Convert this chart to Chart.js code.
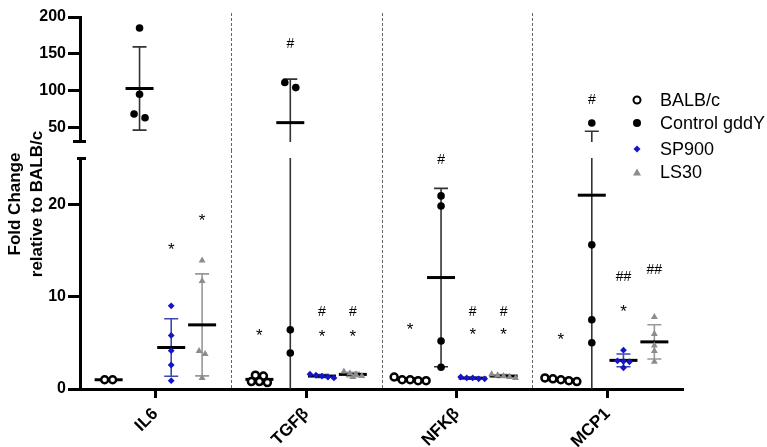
<!DOCTYPE html>
<html>
<head>
<meta charset="utf-8">
<script src="https://cdn.jsdelivr.net/npm/chart.js@4.4.0/dist/chart.umd.min.js"></script>
<style>
    body { margin: 0; background: #fff; }
    #wrap { position: relative; width: 767px; height: 447px; overflow: hidden; font-family: "Liberation Sans", Arial, sans-serif; }
    #upper { position: absolute; left: 0; top: 0; }
    #lower { position: absolute; left: 0; top: 150px; }
    #ytitle {
        position: absolute; left: -74px; top: 182px; width: 200px; height: 44px;
        line-height: 22px; text-align: center; font-size: 17px; font-weight: bold;
        transform: rotate(-90deg); color: #000;
    }
    .item { position: absolute; left: 630px; height: 22px; line-height: 22px; font-size: 18px; color: #000; white-space: nowrap; }
    .item span.txt { position: absolute; left: 30px; top: 0; }
    .mk { position: absolute; left: 7px; top: 11px; transform: translate(-50%, -50%); box-sizing: border-box; }
    .open { width: 9px; height: 9px; border: 2.5px solid #000; border-radius: 50%; }
    .fill { width: 8px; height: 8px; background: #000; border-radius: 50%; }
    .dia { width: 5px; height: 5px; background: #1414c8; transform: translate(-50%, -50%) rotate(45deg); }
    .tri { width: 0; height: 0; border-left: 4px solid transparent; border-right: 4px solid transparent; border-bottom: 7px solid #8c8c8c; }
</style>
</head>
<body>
<div id="wrap">
    <canvas id="upper" width="767" height="150"></canvas>
    <canvas id="lower" width="767" height="297"></canvas>
    <div id="ytitle">Fold Change<br>relative to BALB/c</div>
    <div class="item" style="top:89px"><i class="mk open"></i><span class="txt">BALB/c</span></div>
    <div class="item" style="top:112px"><i class="mk fill"></i><span class="txt">Control gddY</span></div>
    <div class="item" style="top:138px"><i class="mk dia"></i><span class="txt">SP900</span></div>
    <div class="item" style="top:161px"><i class="mk tri"></i><span class="txt">LS30</span></div>
</div>
<script>
// Genes on the x axis
const categories = ['IL6', 'TGFβ', 'NFKβ', 'MCP1'];
const seriesNames = ['BALB/c', 'Control gddY', 'SP900', 'LS30'];

// Fold change per mouse, one list per gene
const balbc = [
    [1.0, 1.0],
    [0.8, 1.5, 0.7, 1.4, 0.8],
    [1.3, 1.0, 0.9, 1.0, 0.9],
    [1.2, 1.0, 1.1, 0.9, 0.8]
];
const controlGddY = [
    [185, 95, 63, 68],
    [111, 104, 6.4, 3.9],
    [20.9, 19.8, 5.2, 2.35],
    [55.8, 15.6, 7.5, 5.0]
];
const sp900 = [
    [9.0, 5.8, 4.15, 2.6, 0.9],
    [1.3, 1.5, 1.4, 1.6, 1.2],
    [1.2, 1.1, 1.3, 1.2, 1.1],
    [4.2, 3.05, 3.0, 2.95, 2.3]
];
const ls30 = [
    [13.9, 11.7, 4.1, 3.8, 1.2],
    [1.4, 1.7, 1.9, 1.6, 1.3],
    [1.3, 1.6, 1.4, 1.5, 1.2],
    [7.8, 5.95, 4.7, 4.1, 2.95]
];

// Significance marks: [gene, series, text, level]
const marks = [
    [0, 2, '*', 15.4], [0, 3, '*', 18.5],
    [1, 0, '*', 6.1], [1, 1, '#', 163], [1, 2, '*', 5.95], [1, 2, '#', 8.3], [1, 3, '*', 5.95], [1, 3, '#', 8.3],
    [2, 0, '*', 6.7], [2, 1, '#', 24.8], [2, 2, '*', 6.2], [2, 2, '#', 8.3], [2, 3, '*', 6.2], [2, 3, '#', 8.3],
    [3, 0, '*', 5.7], [3, 1, '#', 87], [3, 2, '*', 8.7], [3, 2, '##', 12.1], [3, 3, '##', 12.9]
];

// Broken y axis
const lowerTicks = [0, 10, 20];
const upperTicks = [50, 100, 150, 200];
const lowerMin = 0, lowerMax = 25;
const upperMin = 30, upperMax = 200;

const allSeries = [balbc, controlGddY, sp900, ls30];
const seriesOffset = [-0.31, -0.105, 0.105, 0.31];
const jitterStep = [8, 11, 6, 6];
const pointStyles = [
    { pointStyle: 'circle', radius: 3.5, backgroundColor: '#fff', borderColor: '#000', borderWidth: 2.5 },
    { pointStyle: 'circle', radius: 3.8, backgroundColor: '#000', borderColor: '#000', borderWidth: 0 },
    { pointStyle: 'rectRot', radius: 3.4, backgroundColor: '#1414c8', borderColor: '#1414c8', borderWidth: 0 },
    { pointStyle: 'triangle', radius: 4, backgroundColor: '#8c8c8c', borderColor: '#8c8c8c', borderWidth: 0 }
];
const errorColors = ['#000', '#333', '#3c46b4', '#999'];

Chart.defaults.font.family = "'Liberation Sans', Arial, sans-serif";
Chart.defaults.color = '#000';

function stats(vals) {
    const mean = vals.reduce((a, b) => a + b, 0) / vals.length;
    const sd = Math.sqrt(vals.reduce((a, b) => a + (b - mean) * (b - mean), 0) / (vals.length - 1));
    return { mean, sd };
}

// Spread overlapping points sideways, like a scatter column
function jitter(vals, step) {
    const py = v => v > lowerMax ? (upperMax - v) * 0.735 : 150 + (lowerMax - v) * 9.24;
    const order = vals.map((v, i) => i).sort((a, b) => py(vals[a]) - py(vals[b]));
    const out = new Array(vals.length).fill(0);
    let row = [];
    const flush = () => {
        row.forEach((idx, k) => { out[idx] = (k - (row.length - 1) / 2) * step / 151; });
        row = [];
    };
    order.forEach(i => {
        if (row.length && py(vals[i]) - py(vals[row[0]]) > 5.5) flush();
        row.push(i);
    });
    flush();
    return out;
}

function buildDatasets(inRange) {
    return allSeries.map((series, s) => {
        const pts = [];
        series.forEach((vals, g) => {
            const jx = jitter(vals, jitterStep[s]);
            vals.forEach((v, i) => {
                if (inRange(v)) pts.push({ x: g + seriesOffset[s] + jx[i], y: v });
            });
        });
        const st = pointStyles[s];
        return {
            label: seriesNames[s],
            data: pts,
            showLine: false,
            pointStyle: st.pointStyle,
            pointRadius: st.radius,
            pointBackgroundColor: st.backgroundColor,
            pointBorderColor: st.borderColor,
            pointBorderWidth: st.borderWidth,
            clip: false
        };
    });
}

// Separators, axis break caps, error bars and means
const decorPlugin = {
    id: 'decor',
    beforeDatasetsDraw(chart, args, opts) {
        const { ctx, chartArea, scales: { x, y } } = chart;
        ctx.save();
        // dotted separators between genes
        ctx.strokeStyle = '#666';
        ctx.lineWidth = 1;
        ctx.setLineDash([3, 2]);
        [0.5, 1.5, 2.5].forEach(v => {
            const px = Math.round(x.getPixelForValue(v)) + 0.5;
            ctx.beginPath();
            if (opts.upper) {
                ctx.moveTo(px, chartArea.top - 4);
                ctx.lineTo(px, chart.height);
            } else {
                ctx.moveTo(px, 0);
                ctx.lineTo(px, chartArea.bottom);
            }
            ctx.stroke();
        });
        ctx.setLineDash([]);

        // axis break caps
        ctx.strokeStyle = '#000';
        ctx.lineWidth = 3;
        ctx.beginPath();
        if (opts.upper) {
            ctx.moveTo(chartArea.left - 7, chartArea.bottom - 0.5);
            ctx.lineTo(chartArea.left + 6, chartArea.bottom - 0.5);
        } else {
            ctx.moveTo(chartArea.left - 3, chartArea.top + 0.5);
            ctx.lineTo(chartArea.left + 6, chartArea.top + 0.5);
        }
        ctx.stroke();

        // error bars (mean ± SD) and mean lines
        ctx.beginPath();
        ctx.rect(chartArea.left, chartArea.top, chartArea.right - chartArea.left, chartArea.bottom - chartArea.top);
        ctx.clip();
        allSeries.forEach((series, s) => {
            series.forEach((vals, g) => {
                const { mean, sd } = stats(vals);
                const px = x.getPixelForValue(g + seriesOffset[s]);
                const top = y.getPixelForValue(mean + sd);
                const bot = y.getPixelForValue(mean - sd);
                const mid = y.getPixelForValue(mean);
                ctx.strokeStyle = errorColors[s];
                ctx.lineWidth = 1.6;
                ctx.beginPath();
                ctx.moveTo(px, top); ctx.lineTo(px, bot);
                ctx.moveTo(px - 7, top); ctx.lineTo(px + 7, top);
                ctx.moveTo(px - 7, bot); ctx.lineTo(px + 7, bot);
                ctx.stroke();
                ctx.strokeStyle = '#000';
                ctx.lineWidth = 3;
                ctx.beginPath();
                ctx.moveTo(px - 14, mid); ctx.lineTo(px + 14, mid);
                ctx.stroke();
            });
        });
        ctx.restore();
    },
    afterDatasetsDraw(chart, args, opts) {
        const { ctx, scales: { x, y } } = chart;
        ctx.save();
        ctx.fillStyle = '#000';
        ctx.textAlign = 'center';
        ctx.textBaseline = 'middle';
        marks.forEach(([g, s, text, level]) => {
            const upperMark = level > lowerMax;
            if (upperMark !== !!opts.upper) return;
            const px = x.getPixelForValue(g + seriesOffset[s]);
            const py = y.getPixelForValue(level);
            if (text === '*') {
                ctx.font = "17px 'Liberation Sans', Arial, sans-serif";
                ctx.fillText(text, px, py + 3.5);
            } else {
                ctx.font = "14px 'Liberation Sans', Arial, sans-serif";
                ctx.fillText(text, px, py);
            }
        });
        ctx.restore();
    }
};

const tickFont = { size: 16, weight: 'bold' };

function yScale(min, max, ticks) {
    return {
        type: 'linear',
        min: min,
        max: max,
        afterBuildTicks: s => { s.ticks = ticks.map(v => ({ value: v })); },
        afterFit: s => {
            s.width = 80;
            // ticks are not at the ends, so no label overflow padding
            s.paddingTop = 0;
            s.paddingBottom = 0;
        },
        ticks: { color: '#000', font: tickFont, padding: 2 },
        grid: { drawOnChartArea: false, tickLength: 12, tickWidth: 3, tickColor: '#000' },
        border: { color: '#000', width: 3 }
    };
}

// Upper segment (30 - 200)
new Chart(document.getElementById('upper').getContext('2d'), {
    type: 'scatter',
    data: { datasets: buildDatasets(v => v >= upperMin) },
    options: {
        responsive: false,
        animation: false,
        layout: { padding: { left: 0, right: 84, top: 17, bottom: 8 } },
        scales: {
            x: { type: 'linear', min: -0.5, max: 3.5, display: false },
            y: yScale(upperMin, upperMax, upperTicks)
        },
        plugins: {
            legend: { display: false },
            tooltip: { enabled: false },
            decor: { upper: true }
        }
    },
    plugins: [decorPlugin]
});

// Lower segment (0 - 25)
new Chart(document.getElementById('lower').getContext('2d'), {
    type: 'scatter',
    data: { datasets: buildDatasets(v => v <= lowerMax) },
    options: {
        responsive: false,
        animation: false,
        layout: { padding: { left: 0, right: 84, top: 8, bottom: 0 } },
        scales: {
            x: {
                type: 'linear',
                min: -0.5,
                max: 3.5,
                afterBuildTicks: s => { s.ticks = categories.map((c, i) => ({ value: i })); },
                afterFit: s => { s.height = 58; },
                ticks: {
                    color: '#000',
                    font: { size: 17, weight: 'bold' },
                    minRotation: 45,
                    maxRotation: 45,
                    autoSkip: false,
                    padding: 6,
                    callback: function (value) {
                        return categories[value];
                    }
                },
                grid: { drawOnChartArea: false, tickLength: 9, tickWidth: 3, tickColor: '#000' },
                border: { color: '#000', width: 3 }
            },
            y: yScale(lowerMin, lowerMax, lowerTicks)
        },
        plugins: {
            legend: { display: false },
            tooltip: { enabled: false },
            decor: { upper: false }
        }
    },
    plugins: [decorPlugin]
});
</script>
</body>
</html>
